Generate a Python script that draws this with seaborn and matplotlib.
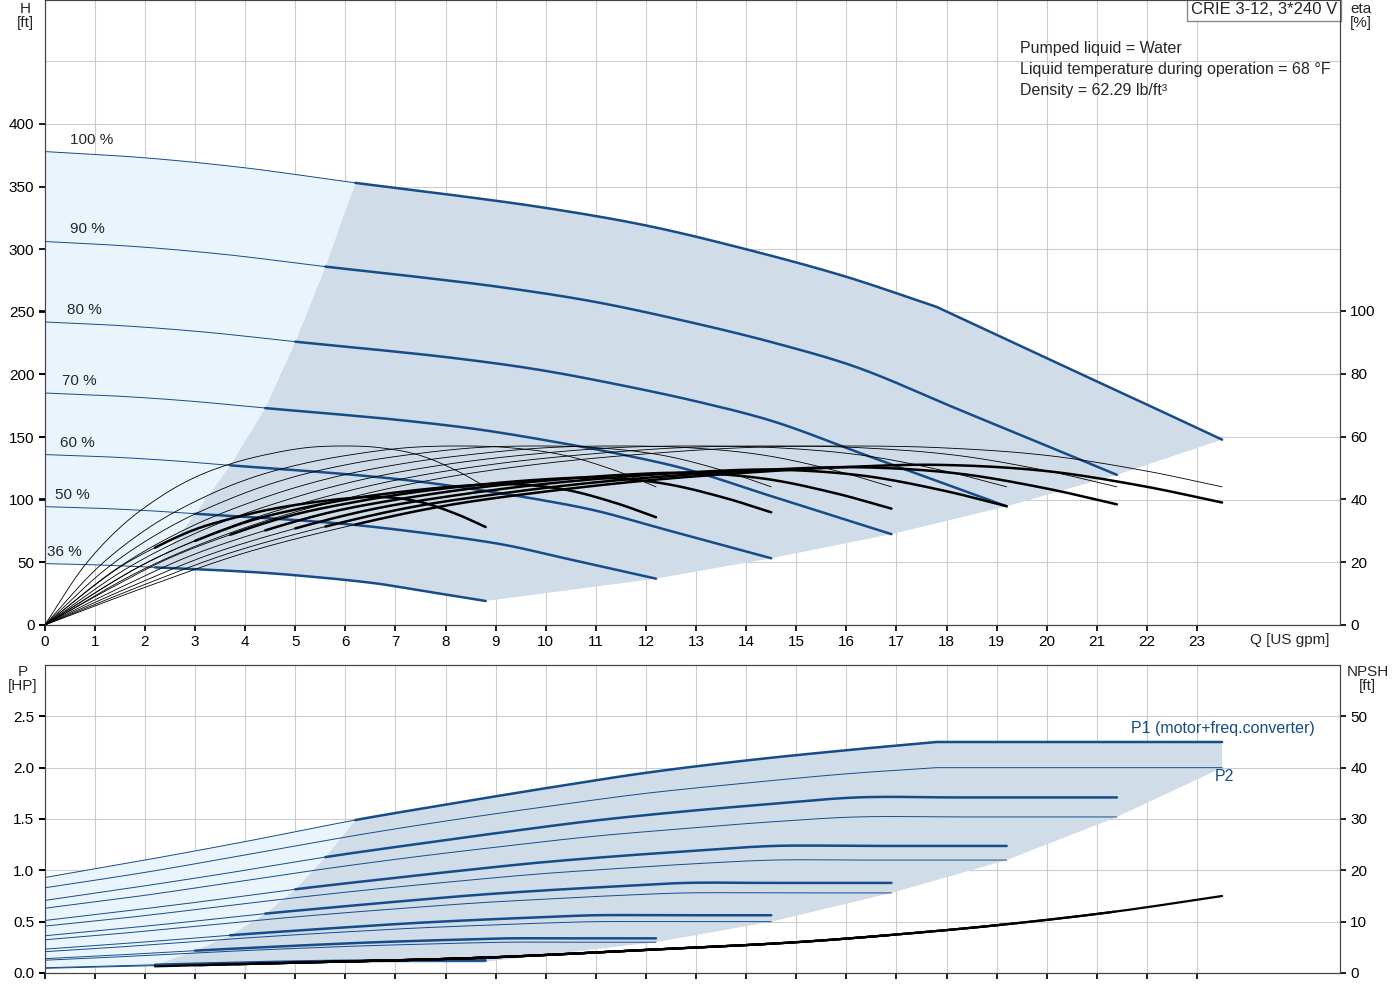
import numpy as np
import matplotlib
matplotlib.use('Agg')
import matplotlib.pyplot as plt
import seaborn as sns

sns.set_theme(style='white')
plt.rcParams['font.family'] = ['Liberation Sans', 'DejaVu Sans']

BLUE = '#164c8a'
DARK_FILL = '#d0dce8'
LIGHT_FILL = '#eaf4fd'
GRID = '#cccccc'

# speeds and their curve extents
speeds = [1.0, 0.9, 0.8, 0.7, 0.6, 0.5, 0.36]
speed_labels = ['100 %', '90 %', '80 %', '70 %', '60 %', '50 %', '36 %']
label_q = [0.5, 0.5, 0.45, 0.35, 0.3, 0.2, 0.05]
q_end = [23.5, 21.4, 19.2, 16.9, 14.5, 12.2, 8.8]
q_min = [6.2, 5.6, 5.0, 4.4, 3.7, 3.0, 2.2]

# 100 % curves (index 9 = power limit corner at 17.8 gpm)
q100 = [0, 2, 4, 6.2, 8, 10, 12, 14, 16, 17.8, 20, 22, 23.5]
h100 = [378, 373, 365, 353, 344, 333, 319, 300, 278, 254, 213, 176, 148]
eta_pump100 = [0, 18, 31, 41, 47, 51.5, 54.5, 56.5, 57, 56.5, 54, 49, 44]
eta_tot100 = [0, 12, 23, 32, 38, 42.5, 46, 48.5, 50.3, 51, 49, 44, 39]
p1_100 = [0.93, 1.1, 1.28, 1.49, 1.64, 1.8, 1.95, 2.07, 2.17, 2.25, 2.25, 2.25, 2.25]
p2_100 = [0.83, 0.98, 1.15, 1.34, 1.48, 1.62, 1.75, 1.85, 1.94, 2.0, 2.0, 2.0, 2.0]
motor_fac = [1, 0.985, 0.97, 0.95, 0.92, 0.88, 0.8]
p_fac = [1, 0.76, 0.55, 0.39, 0.25, 0.15, 0.055]

npsh_q = [2.2, 5, 8.8, 12, 15, 17, 19.2, 21.4, 23.5]
npsh_ft = [1.3, 2, 3, 4.5, 6, 7.5, 9.5, 12, 15]

x_ticks = list(range(0, 24))
CORNER = 9


def hermite(x, y, n=120):
    """Smooth piecewise cubic through the read points."""
    x = np.asarray(x, float)
    y = np.asarray(y, float)
    d = np.diff(y) / np.diff(x)
    m = np.r_[d[0], (d[:-1] + d[1:]) / 2, d[-1]]
    xs = np.linspace(x[0], x[-1], n)
    k = np.clip(np.searchsorted(x, xs) - 1, 0, len(x) - 2)
    h = x[k + 1] - x[k]
    t = (xs - x[k]) / h
    ys = ((2 * t**3 - 3 * t**2 + 1) * y[k] + (t**3 - 2 * t**2 + t) * h * m[k]
          + (-2 * t**3 + 3 * t**2) * y[k + 1] + (t**3 - t**2) * h * m[k + 1])
    return xs, ys


def smooth(x, y, corner=None):
    if corner is None:
        return hermite(x, y, 200)
    xa, ya = hermite(x[:corner + 1], y[:corner + 1], 150)
    xb, yb = hermite(x[corner:], y[corner:], 60)
    return np.r_[xa, xb[1:]], np.r_[ya, yb[1:]]


def curve(i, base, fac, corner=None):
    q = np.array(q100) * q_end[i] / q100[-1]
    # only the full-speed curve has the power limit corner
    return smooth(q, np.array(base) * fac, corner if i == 0 else None)


def split(q, y, qs):
    ys = np.interp(qs, q, y)
    m = q > qs
    return np.r_[qs, q[m]], np.r_[ys, y[m]]


fig = plt.figure(figsize=(14, 10), dpi=100)
ax = fig.add_axes([0.032, 0.375, 0.925, 0.625])
ax2 = ax.twinx()
bx = fig.add_axes([0.032, 0.027, 0.925, 0.308])
bx2 = bx.twinx()

# ---- top: head ----
hc = [curve(i, h100, s ** 2, CORNER) for i, s in enumerate(speeds)]
bq = list(q_min)
bh = [np.interp(q_min[i], *hc[i]) for i in range(len(speeds))]
q0, h0 = hc[0]
q6, h6 = hc[-1]
ua, uh = split(q0, h0, q_min[0])
la, lh = split(q6, h6, q_min[-1])
ex = [c[0][-1] for c in hc]
ey = [c[1][-1] for c in hc]
poly_x = np.r_[ua, ex[1:], la[::-1], bq[::-1][1:]]
poly_y = np.r_[uh, ey[1:], lh[::-1], bh[::-1][1:]]
ax.fill(poly_x, poly_y, color=DARK_FILL, lw=0, zorder=1)
m0 = q0 < q_min[0]
m6 = q6 < q_min[-1]
lx = np.r_[q0[m0], bq, q6[m6][::-1]]
ly = np.r_[h0[m0], bh, h6[m6][::-1]]
ax.fill(lx, ly, color=LIGHT_FILL, lw=0, zorder=1)

for i, (q, h) in enumerate(hc):
    ax.plot(q, h, color=BLUE, lw=0.7, zorder=3)
    tq, th = split(q, h, q_min[i])
    ax.plot(tq, th, color=BLUE, lw=1.8, zorder=3)
    ax.text(label_q[i], h[0] + 4, speed_labels[i], fontsize=11, va='bottom', zorder=5)

# ---- efficiency ----
for i, s in enumerate(speeds):
    q, e = curve(i, eta_pump100, 1.0)
    ax2.plot(q, e, color='black', lw=0.6, zorder=3)
    q, e = curve(i, eta_tot100, motor_fac[i])
    ax2.plot(q, e, color='black', lw=0.6, zorder=3)
    tq, te = split(q, e, q_min[i])
    ax2.plot(tq, te, color='black', lw=1.8, zorder=3)

ax.set_xlim(0, 25.85)
ax.set_ylim(0, 499)
ax2.set_ylim(0, 199)
ax.set_xticks(x_ticks)
ax.set_yticks([0, 50, 100, 150, 200, 250, 300, 350, 400])
ax.set_yticks([450], minor=True)
ax.tick_params(which='minor', length=0)
ax2.set_yticks([0, 20, 40, 60, 80, 100])
ax.grid(True, which='both', color=GRID, lw=0.8)
ax.set_axisbelow(True)
for a in (ax, ax2):
    a.tick_params(which='major', labelsize=11, length=4, direction='out', colors='black', left=True, bottom=True)
    a.patch.set_visible(False)
ax2.tick_params(right=True)
ax.set_zorder(1)
ax2.set_zorder(2)
fig.patch.set_facecolor('white')
ax.annotate('Q [US gpm]', xy=(24.05, 0), xycoords=('data', 'axes fraction'),
            xytext=(0, -6), textcoords='offset points', ha='left', va='top', fontsize=11)
fig.text(0.018, 0.998, 'H\n[ft]', ha='center', va='top', fontsize=11, linespacing=1.0)
fig.text(0.972, 0.998, 'eta\n[%]', ha='center', va='top', fontsize=11, linespacing=1.0)
ax.text(0.998, 0.997, 'CRIE 3-12, 3*240 V', transform=ax.transAxes, ha='right', va='top',
        fontsize=12, bbox=dict(facecolor='white', edgecolor='#888888', pad=3), zorder=6)
ax.text(0.753, 0.935, 'Pumped liquid = Water\nLiquid temperature during operation = 68 °F\nDensity = 62.29 lb/ft³',
        transform=ax.transAxes, ha='left', va='top', fontsize=11.5, linespacing=1.5, zorder=6)

# ---- bottom: power and NPSH ----
p1c = [curve(i, p1_100, p_fac[i], CORNER) for i in range(len(speeds))]
p2c = [curve(i, p2_100, p_fac[i], CORNER) for i in range(len(speeds))]
q0, p0 = p1c[0]
ua, up = split(q0, p0, q_min[0])
bp = [np.interp(q_min[i], *p1c[i]) for i in range(len(speeds))]
qa6, pa6 = p2c[-1]
la, lp = split(qa6, pa6, q_min[-1])
e2x = [c[0][-1] for c in p2c]
e2y = [c[1][-1] for c in p2c]
poly_x = np.r_[ua, e2x, la[::-1], bq[::-1]]
poly_y = np.r_[up, e2y, lp[::-1], bp[::-1]]
bx.fill(poly_x, poly_y, color=DARK_FILL, lw=0, zorder=1)
m0 = q0 < q_min[0]
m6 = qa6 < q_min[-1]
lx = np.r_[q0[m0], bq, qa6[m6][::-1]]
ly = np.r_[p0[m0], bp, pa6[m6][::-1]]
bx.fill(lx, ly, color=LIGHT_FILL, lw=0, zorder=1)

sq, sn = smooth(npsh_q, npsh_ft)
for i in range(len(speeds)):
    q, p = p1c[i]
    bx.plot(q, p, color=BLUE, lw=0.7, zorder=3)
    tq, tp = split(q, p, q_min[i])
    bx.plot(tq, tp, color=BLUE, lw=1.8, zorder=3)
    q, p = p2c[i]
    bx.plot(q, p, color=BLUE, lw=0.7, zorder=3)
    keep = (sq >= q_min[i]) & (sq <= q_end[i])
    bx2.plot(sq[keep], sn[keep], color='black', lw=1.6, zorder=3)

bx.set_xlim(0, 25.85)
bx.set_ylim(0, 3.0)
bx2.set_ylim(0, 60)
bx.set_xticks(x_ticks)
bx.set_xticklabels([])
bx.set_yticks([0, 0.5, 1.0, 1.5, 2.0, 2.5])
bx.set_yticklabels(['0.0', '0.5', '1.0', '1.5', '2.0', '2.5'])
bx2.set_yticks([0, 10, 20, 30, 40, 50])
bx.grid(True, color=GRID, lw=0.8)
bx.set_axisbelow(True)
for a in (bx, bx2):
    a.tick_params(labelsize=11, length=4, direction='out', colors='black', left=True, bottom=True)
    a.patch.set_visible(False)
bx2.tick_params(right=True)
bx.set_zorder(1)
bx2.set_zorder(2)
bx.text(25.35, 2.38, 'P1 (motor+freq.converter)', color=BLUE, fontsize=11.5, ha='right', va='center')
bx.text(23.35, 1.91, 'P2', color=BLUE, fontsize=11.5, ha='left', va='center')
fig.text(0.016, 0.335, 'P\n[HP]', ha='center', va='top', fontsize=11, linespacing=1.0)
fig.text(0.977, 0.335, 'NPSH\n[ft]', ha='center', va='top', fontsize=11, linespacing=1.0)

for a in (ax, ax2, bx, bx2):
    for sp in a.spines.values():
        sp.set_color('#444444')
        sp.set_linewidth(0.8)

fig.savefig('out.png', dpi=100, facecolor='white')
